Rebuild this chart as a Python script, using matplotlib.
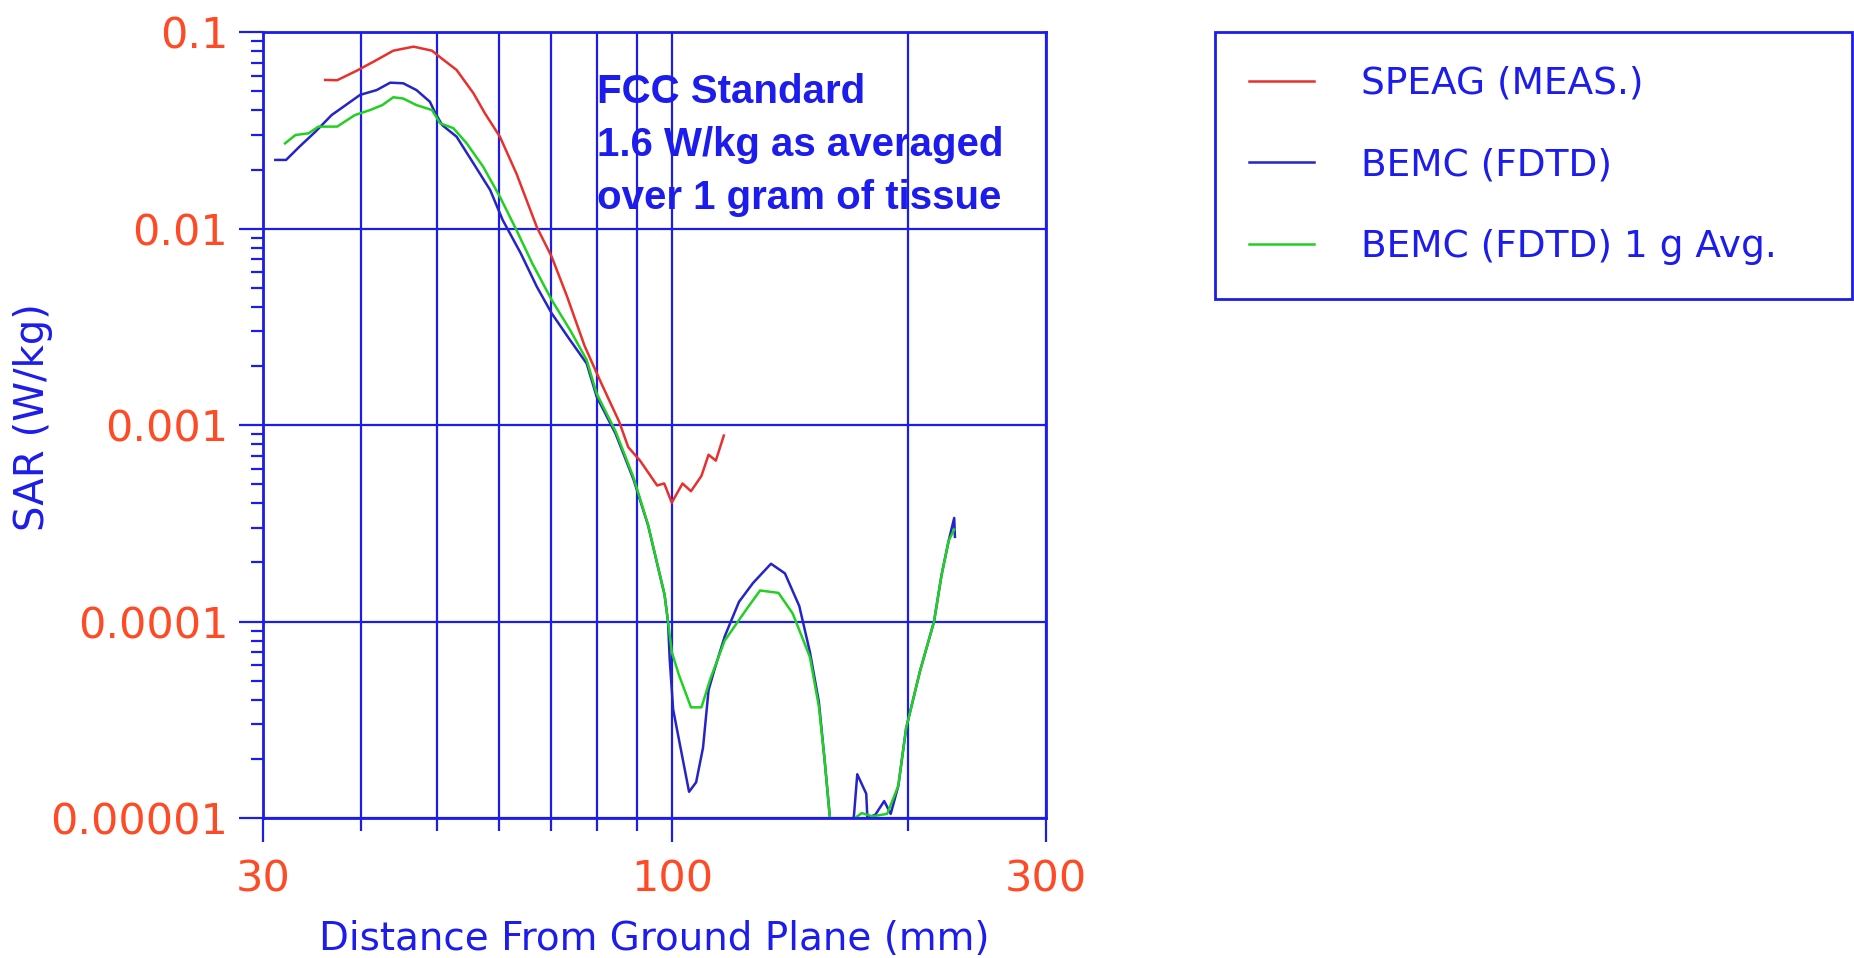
import matplotlib
matplotlib.use('Agg')
import matplotlib.pyplot as plt
from matplotlib.ticker import NullFormatter

# 데이터
speag_x = [36.0, 37.3, 39.5, 41.5, 44.0, 46.7, 49.3, 50.5, 53.0, 55.7, 57.6, 60.2, 63.2, 67.1, 70.1,
           73.3, 77.2, 80.8, 85.5, 87.8, 90.9, 95.6, 97.6, 99.8, 103.0, 105.6, 108.9, 111.2, 113.6, 116.3]
speag_y = [0.0572, 0.057, 0.0637, 0.0708, 0.0806, 0.0845, 0.0806, 0.0746, 0.0643, 0.0489, 0.0387, 0.0294,
           0.0191, 0.0102, 0.0072, 0.00455, 0.00254, 0.00169, 0.00104, 0.000773, 0.00066, 0.000493,
           0.000505, 0.000403, 0.000505, 0.000461, 0.000552, 0.000707, 0.00066, 0.000885]

fdtd_x = [31.1, 32.1, 33.4, 35.0, 36.7, 38.0, 39.9, 41.9, 43.6, 45.3, 47.1, 49.0, 49.8, 50.8, 53.0,
          55.7, 58.5, 60.7, 64.0, 67.1, 70.1, 74.0, 77.7, 80.0, 84.6, 89.2, 93.1, 95.6, 97.7, 98.7,
          99.2, 100.2, 102.4, 105.0, 107.2, 109.4, 111.2, 113.0, 116.6, 121.6, 126.7, 133.6, 139.2, 145.2,
          149.8, 153.8, 156.4, 158.9, 162.0, 168.0, 170.6, 172.2, 176.8, 177.4, 181.6, 186.4, 190.0,
          194.3, 198.8, 207.1, 215.8, 220.6, 225.3, 229.0, 229.5]
fdtd_y = [0.0224, 0.0224, 0.0262, 0.0312, 0.0379, 0.0418, 0.048, 0.0508, 0.0554, 0.055, 0.0508, 0.0443,
          0.0387, 0.0337, 0.0294, 0.0215, 0.01574, 0.01107, 0.0075, 0.00507, 0.00371, 0.00271, 0.00206,
          0.0014, 0.000904, 0.000528, 0.000308, 0.000197, 0.000137, 0.0001, 0.000064, 0.0000357,
          0.0000228, 0.0000136, 0.0000152, 0.0000228, 0.0000448, 0.000056, 0.000084, 0.000126, 0.000157,
          0.000197, 0.000176, 0.00012, 0.0000701, 0.0000391, 0.0000199, 0.00001, 0.000006, 0.000006,
          0.0000105, 0.0000167, 0.0000133, 0.00001, 0.0000104, 0.0000122, 0.0000105, 0.0000146,
          0.0000286, 0.000056, 0.0001, 0.000172, 0.000258, 0.000337, 0.00027]

avg_x = [32.0, 33.0, 34.3, 35.3, 37.3, 39.3, 41.1, 42.6, 44.0, 45.3, 47.1, 49.3, 50.5, 52.5, 54.6,
         57.3, 60.2, 63.2, 66.2, 70.1, 74.0, 77.7, 80.0, 84.6, 89.2, 93.1, 95.6, 97.7, 98.7, 99.8,
         101.9, 105.6, 108.9, 111.8, 116.6, 124.2, 129.4, 136.6, 142.4, 147.0, 149.8, 153.8, 156.4,
         158.9, 162.0, 168.0, 171.0, 174.5, 180.0, 188.0, 194.3, 198.8, 207.1, 215.8, 220.6, 225.3, 229.0]
avg_y = [0.0272, 0.030, 0.0306, 0.0331, 0.0331, 0.0379, 0.0402, 0.0426, 0.0467, 0.046, 0.0426, 0.0402,
         0.0344, 0.0325, 0.0272, 0.0207, 0.01455, 0.00985, 0.00667, 0.00434, 0.00305, 0.00215, 0.00145,
         0.00093, 0.00054, 0.00031, 0.000198, 0.000137, 0.0001, 0.00007, 0.0000536, 0.0000366, 0.0000366,
         0.0000512, 0.00008, 0.000115, 0.000144, 0.00014, 0.00011, 0.00008, 0.000066, 0.000037, 0.00002,
         0.00001, 0.000006, 0.000006, 0.00001, 0.0000106, 0.0000102, 0.0000105, 0.0000146, 0.0000286,
         0.000056, 0.0001, 0.000172, 0.000258, 0.000294]

series_labels = ['SPEAG (MEAS.)', 'BEMC (FDTD)', 'BEMC (FDTD) 1 g Avg.']

x_major = [30, 100, 300]
x_labels = ['30', '100', '300']
x_minor = [40, 50, 60, 70, 80, 90, 200]
y_major = [1e-5, 1e-4, 1e-3, 1e-2, 1e-1]
y_labels = ['0.00001', '0.0001', '0.001', '0.01', '0.1']

# 색상
blue = '#1c1cec'
orange = '#ff4a26'
line_colors = ['#e8302c', '#2424c8', '#22d022']

plt.rcParams['font.family'] = 'DejaVu Sans'

fig = plt.figure(figsize=(18.54, 9.58), dpi=100)
ax = fig.add_axes([0.1419, 0.1461, 0.4223, 0.8202])

ax.plot(speag_x, speag_y, color=line_colors[0], lw=1.8, label=series_labels[0])
ax.plot(fdtd_x, fdtd_y, color=line_colors[1], lw=1.8, label=series_labels[1])
ax.plot(avg_x, avg_y, color=line_colors[2], lw=1.8, label=series_labels[2])

ax.set_xscale('log')
ax.set_yscale('log')
ax.set_xlim(30, 300)
ax.set_ylim(1e-5, 0.1)

ax.set_xticks(x_major, labels=x_labels)
ax.set_xticks(x_minor, minor=True)
ax.xaxis.set_minor_formatter(NullFormatter())
y_minor = [m * d for d in y_major[:-1] for m in range(2, 10)]
ax.set_yticks(y_major, labels=y_labels)
ax.set_yticks(y_minor, minor=True)
ax.yaxis.set_minor_formatter(NullFormatter())

ax.tick_params(which='major', length=17, width=1.6, color=blue, labelcolor=orange,
               labelsize=31, pad=8)
ax.tick_params(axis='x', which='major', pad=12)
ax.tick_params(which='minor', length=9, width=1.6, color=blue)

ax.grid(which='major', axis='y', color=blue, lw=1.6)
ax.grid(which='both', axis='x', color=blue, lw=1.6)
ax.set_axisbelow(True)

for sp in ax.spines.values():
    sp.set_color(blue)
    sp.set_linewidth(2)

ax.set_xlabel('Distance From Ground Plane (mm)', fontsize=28, color=blue, labelpad=14)
ax.set_ylabel('SAR (W/kg)', fontsize=29, color=blue)
ax.yaxis.set_label_coords(-0.268, 0.51)

ax.text(0.4266, 0.948, 'FCC Standard\n1.6 W/kg as averaged\nover 1 gram of tissue',
        transform=ax.transAxes, va='top', ha='left', fontsize=29, fontweight='bold',
        family='Liberation Sans', color=blue, linespacing=1.5)

leg = fig.legend(loc='upper left', bbox_to_anchor=(0.6553, 0.6827, 0.3437, 0.2839),
                 mode='expand', borderaxespad=0, fontsize=27, labelcolor=blue,
                 fancybox=False, framealpha=1, edgecolor=blue, handlelength=1.75,
                 handletextpad=1.25, borderpad=0.9, labelspacing=1.22)
leg.get_frame().set_linewidth(2)

plt.savefig('out.png', dpi=100)
plt.close()
